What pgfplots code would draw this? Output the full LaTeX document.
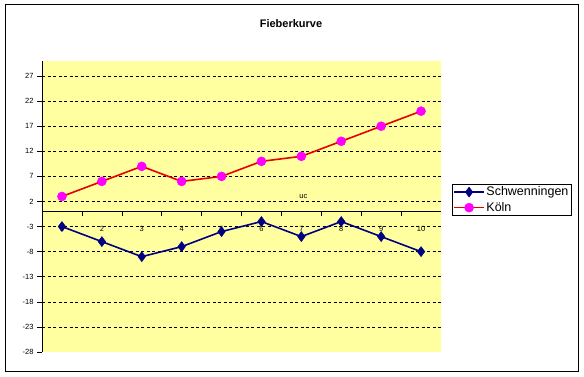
\documentclass[border=0pt]{standalone}
\usepackage{fontspec}
\setmainfont{Liberation Sans}
\usepackage{pgfplots}
\pgfplotsset{compat=1.18}
\definecolor{plotbg}{RGB}{255,255,160}
\definecolor{navyline}{RGB}{0,0,128}
\definecolor{koelnline}{RGB}{230,0,0}
\definecolor{koelnmark}{RGB}{255,0,255}
\begin{document}
\begin{tikzpicture}
\fill[white] (0pt,0pt) rectangle (584pt,377pt);
\draw[black,line width=1pt] (5pt,5pt) rectangle (578pt,372pt);
\node[font=\bfseries\fontsize{11}{13}\selectfont] at (291pt,353.5pt) {Fieberkurve};
\begin{axis}[
  at={(42pt,25pt)}, anchor=south west,
  scale only axis, width=399pt, height=291pt,
  xmin=0.5, xmax=10.5, ymin=-28, ymax=30,
  axis x line=middle, axis y line=left,
  axis line style={-, black, line width=0.8pt},
  axis background/.style={fill=plotbg},
  xtick={1,...,10},
  xticklabels={1,2,3,4,5,6,7,8,9,10},
  every major x tick/.append style={draw=none},
  minor xtick={1.5,2.5,...,9.5},
  minor tick length=4pt,
  major tick length=5pt,
  tick align=outside,
  tick style={black, line width=0.6pt},
  ytick={-23,-18,...,27},
  extra y ticks={-28},
  extra y tick style={grid=none},
  ymajorgrids,
  major grid style={black, dashed, line width=0.6pt, dash pattern=on 3pt off 2.5pt},
  ticklabel style={font=\fontsize{7.5}{9}\selectfont},
  /pgf/number format/assume math mode=true,
  xticklabel style={yshift=-6.5pt},
  legend style={at={(axis description cs:1.0276,0.5773)}, anchor=north west,
    draw=black, line width=0.6pt, font=\fontsize{12.5}{14}\selectfont,
    inner xsep=1pt, inner ysep=1pt, row sep=2pt,
    nodes={inner sep=1.5pt}},
  legend cell align=left,
  legend image code/.code={
    \draw[mark repeat=2,mark phase=2,#1] plot coordinates {(0pt,0pt) (15pt,0pt) (30pt,0pt)};
  },
  clip=false,
]
\addplot[navyline, line width=1.6pt, mark=diamond*, mark size=5pt,
  mark options={fill=navyline, draw=navyline, line width=0.5pt}]
  coordinates {(1,-3) (2,-6) (3,-9) (4,-7) (5,-4) (6,-2) (7,-5) (8,-2) (9,-5) (10,-8)};
\addlegendentry{Schwenningen}
\addplot[koelnline, line width=1.6pt, mark=*, mark size=4.5pt,
  mark options={fill=koelnmark, draw=koelnmark, line width=0.5pt}]
  coordinates {(1,3) (2,6) (3,9) (4,6) (5,7) (6,10) (7,11) (8,14) (9,17) (10,20)};
\addlegendentry{K\"oln}
\node[font=\fontsize{7.5}{9}\selectfont] at (axis cs:7.05,2.9) {uc};
\end{axis}
\end{tikzpicture}
\end{document}
